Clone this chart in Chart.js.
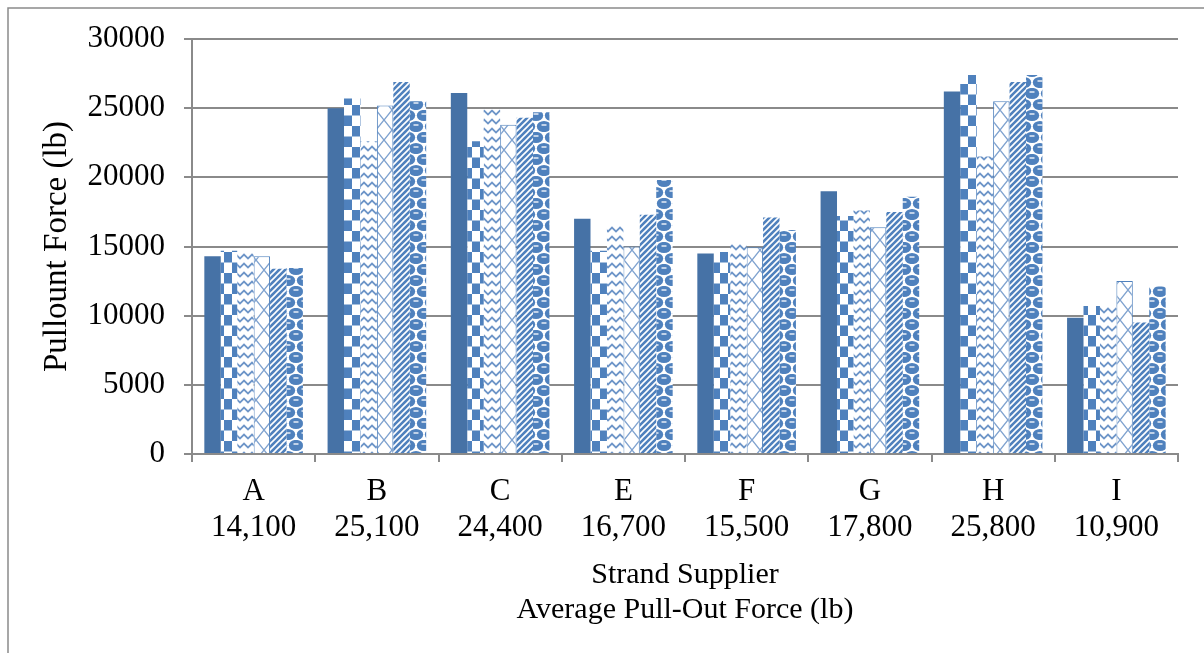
<!DOCTYPE html>
<html>
<head>
<meta charset="utf-8">
<script src="https://cdn.jsdelivr.net/npm/chart.js@4"></script>
<style>
  html, body { margin: 0; padding: 0; background: #fff; }
  #wrap { width: 1204px; height: 653px; position: relative; }
</style>
</head>
<body>
<div id="wrap"><canvas id="c" width="1204" height="653"></canvas></div>
<script>
// ---- data ----
const categories = ['A', 'B', 'C', 'E', 'F', 'G', 'H', 'I'];
const averages = ['14,100', '25,100', '24,400', '16,700', '15,500', '17,800', '25,800', '10,900'];
const series1 = [14300, 25000, 26100, 17000, 14500, 19000, 26200, 9850];
const series2 = [14700, 25700, 22600, 14700, 14600, 17200, 27400, 10700];
const series3 = [14600, 22600, 24900, 16500, 15300, 17600, 21500, 10650];
const series4 = [14300, 25200, 23800, 15000, 14950, 16400, 25500, 12500];
const series5 = [13400, 26900, 24300, 17300, 17100, 17500, 26900, 9500];
const series6 = [13450, 25500, 24700, 19800, 16200, 18600, 27400, 12100];
const yTitle = 'Pullount Force (lb)';
const xTitle = ['Strand Supplier', 'Average Pull-Out Force (lb)'];

// ---- patterns ----
const SOLID = '#4672A6';
const BLUE = '#4F81BD';
function tile(w, h, draw) {
  const c = document.createElement('canvas');
  c.width = w; c.height = h;
  const g = c.getContext('2d');
  g.fillStyle = '#fff'; g.fillRect(0, 0, w, h);
  draw(g, w, h);
  return document.getElementById('c').getContext('2d').createPattern(c, 'repeat');
}
const pChecker = tile(16, 21, (g) => {
  g.fillStyle = BLUE;
  g.fillRect(0, 0, 8, 10.5);
  g.fillRect(8, 10.5, 8, 10.5);
});
const pZigzag = tile(8, 9, (g) => {
  g.strokeStyle = '#6D95C8'; g.lineWidth = 1.8;
  g.beginPath(); g.moveTo(-1, 7.5); g.lineTo(4, 2.5); g.lineTo(9, 7.5); g.stroke();
});
const pLattice = tile(16, 20, (g) => {
  g.strokeStyle = '#7FA2CF'; g.lineWidth = 1.4;
  g.beginPath();
  g.moveTo(0, 0); g.lineTo(16, 20);
  g.moveTo(16, 0); g.lineTo(0, 20);
  g.stroke();
});
const pStripes = tile(6, 6, (g) => {
  g.fillStyle = BLUE; g.fillRect(0, 0, 6, 6);
  g.strokeStyle = '#fff'; g.lineWidth = 1.6;
  g.beginPath();
  g.moveTo(-1, 7); g.lineTo(7, -1);
  g.moveTo(-4, 4); g.lineTo(4, -4);
  g.moveTo(2, 10); g.lineTo(10, 2);
  g.stroke();
});
const pCircles = tile(16, 22, (g) => {
  const eye = (cx, cy) => {
    g.fillStyle = BLUE;
    g.beginPath(); g.ellipse(cx, cy, 7.2, 5.6, 0, 0, Math.PI * 2); g.fill();
    g.strokeStyle = '#fff'; g.lineWidth = 1.3;
    g.beginPath(); g.moveTo(cx - 2.5, cy - 1.5); g.lineTo(cx + 2.5, cy - 1.5); g.stroke();
  };
  eye(8, 5.5);
  eye(0, 16.5); eye(16, 16.5);
  eye(8, 27.5); eye(0, -5.5); eye(16, -5.5);
});

const frame = {
  id: 'frame',
  beforeDraw(chart) {
    const ctx = chart.ctx;
    ctx.save();
    ctx.fillStyle = '#fff';
    ctx.fillRect(0, 0, chart.width, chart.height);
    ctx.strokeStyle = '#8a8a8a';
    ctx.lineWidth = 1.5;
    ctx.beginPath();
    ctx.moveTo(8, chart.height + 2); ctx.lineTo(8, 8); ctx.lineTo(chart.width + 2, 8);
    ctx.stroke();
    ctx.restore();
  }
};

const serif = 'Liberation Serif, Times New Roman, serif';
const gridColor = '#8a8a8a';

new Chart(document.getElementById('c'), {
  type: 'bar',
  data: {
    labels: categories.map((c, i) => [c, averages[i]]),
    datasets: [
      { data: series1, backgroundColor: SOLID, borderWidth: 0 },
      { data: series2, backgroundColor: pChecker, borderWidth: 0 },
      { data: series3, backgroundColor: pZigzag, borderWidth: 0 },
      { data: series4, backgroundColor: pLattice, borderColor: BLUE, borderWidth: 1 },
      { data: series5, backgroundColor: pStripes, borderWidth: 0 },
      { data: series6, backgroundColor: pCircles, borderWidth: 0 }
    ]
  },
  options: {
    responsive: false,
    animation: false,
    devicePixelRatio: 1,
    layout: { padding: { left: 38, top: 39, right: 26, bottom: 25 } },
    datasets: { bar: { categoryPercentage: 0.8, barPercentage: 1.0 } },
    plugins: { legend: { display: false }, tooltip: { enabled: false } },
    scales: {
      x: {
        afterFit: (s) => { s.height = 174; },
        grid: { display: true, drawOnChartArea: false, drawTicks: true, tickLength: 8, color: gridColor, lineWidth: 2, offset: true },
        border: { color: gridColor, width: 2 },
        ticks: { color: '#000', padding: 12, font: { family: serif, size: 31, lineHeight: 1.15 }, maxRotation: 0 },
        title: { display: true, text: xTitle, color: '#000', padding: { top: 0, bottom: 0 }, font: { family: serif, size: 30, lineHeight: 1.17 } }
      },
      y: {
        min: 0, max: 30000,
        afterFit: (s) => { s.width = 154; },
        grid: { color: gridColor, lineWidth: 2, tickLength: 8, drawTicks: true },
        border: { color: gridColor, width: 2 },
        ticks: { stepSize: 5000, color: '#000', padding: 19, font: { family: serif, size: 31 }, callback: (v) => String(v) },
        title: { display: true, text: yTitle, color: '#000', padding: { top: 0, bottom: 0 }, font: { family: serif, size: 33, lineHeight: 1.2 } }
      }
    }
  },
  plugins: [frame]
});
</script>
</body>
</html>
